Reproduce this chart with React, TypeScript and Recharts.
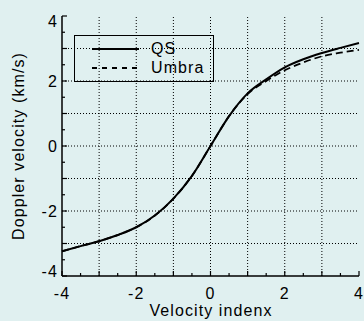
import { LineChart, Line, XAxis, YAxis, ReferenceLine, Legend, Label } from "recharts";

const BG = "#e0f0f0";
const FONT = "'Liberation Sans', Arial, Helvetica, sans-serif";

const VELOCITY_INDEX = [-4, -3.5, -3, -2.5, -2, -1.5, -1, -0.5, 0, 0.5, 1, 1.5, 2, 2.5, 3, 3.5, 4];
const QS = [-3.24, -3.08, -2.93, -2.74, -2.5, -2.14, -1.62, -0.92, 0, 0.92, 1.62, 2.05, 2.42, 2.67, 2.86, 3.02, 3.17];
const UMBRA = [-3.24, -3.08, -2.93, -2.74, -2.5, -2.14, -1.62, -0.92, 0, 0.92, 1.6, 2.0, 2.33, 2.57, 2.76, 2.87, 2.96];

const TICKS = [-4, -3.5, -3, -2.5, -2, -1.5, -1, -0.5, 0, 0.5, 1, 1.5, 2, 2.5, 3, 3.5, 4];
const LABELED = [-4, -2, 0, 2, 4];
const GRID = [-3, -2, -1, 0, 1, 2, 3];

const data = VELOCITY_INDEX.map((x, i) => ({ x, qs: QS[i], umbra: UMBRA[i] }));

const tickLen = (v: number) => (Number.isInteger(v) ? 5 : 3);
const textStyle = { fontFamily: FONT, fontSize: 16, letterSpacing: 1.1, fill: "#000" };

function BottomTick(props: any) {
  const { x, y, payload } = props;
  const v = payload.value;
  return (
    <g>
      <line x1={x} x2={x} y1={y} y2={y - tickLen(v)} stroke="#000" strokeWidth={1.2} />
      {LABELED.includes(v) && (
        <text x={x} y={y + 23} textAnchor="middle" style={textStyle}>
          {v}
        </text>
      )}
    </g>
  );
}

function TopTick(props: any) {
  const { x, y, payload } = props;
  return <line x1={x} x2={x} y1={y} y2={y + tickLen(payload.value)} stroke="#000" strokeWidth={1.2} />;
}

function LeftTick(props: any) {
  const { x, y, payload } = props;
  const v = payload.value;
  // end labels are nudged inside like the original
  const shift = v === 4 ? 5.5 : v === -4 ? -4.3 : 0;
  return (
    <g>
      <line x1={x} x2={x + tickLen(v)} y1={y} y2={y} stroke="#000" strokeWidth={1.2} />
      {LABELED.includes(v) && (
        <text x={x - 4} y={y + shift + 5.7} textAnchor="end" style={textStyle}>
          {v}
        </text>
      )}
    </g>
  );
}

function RightTick(props: any) {
  const { x, y, payload } = props;
  return <line x1={x} x2={x - tickLen(payload.value)} y1={y} y2={y} stroke="#000" strokeWidth={1.2} />;
}

function LegendBox() {
  return (
    <svg width={140} height={47} style={{ display: "block", overflow: "visible" }}>
      <rect x={0.5} y={0.5} width={139} height={46} fill="none" stroke="#000" strokeWidth={1} />
      <line x1={18} x2={65} y1={14} y2={14} stroke="#000" strokeWidth={2} />
      <line x1={18} x2={65} y1={33} y2={33} stroke="#000" strokeWidth={1.8} strokeDasharray="5 5" />
      <text x={77} y={19} style={textStyle}>QS</text>
      <text x={77} y={38} style={textStyle}>Umbra</text>
    </svg>
  );
}

export default function App() {
  return (
    <div style={{ width: 364, height: 321, background: BG }}>
      <style>{`body{margin:0;}`}</style>
      <LineChart width={364} height={321} data={data} margin={{ top: 16, right: 5, left: 0, bottom: 0 }}>
        <XAxis
          dataKey="x"
          type="number"
          domain={[-4, 4]}
          ticks={TICKS}
          interval={0}
          height={45}
          tickSize={0}
          tickMargin={0}
          tickLine={false}
          axisLine={{ stroke: "#000", strokeWidth: 1.5 }}
          tick={<BottomTick />}
        >
          <Label
            content={() => (
              <text x={211} y={316} textAnchor="middle" style={textStyle}>
                Velocity indenx
              </text>
            )}
          />
        </XAxis>
        <XAxis
          xAxisId="top"
          orientation="top"
          dataKey="x"
          type="number"
          domain={[-4, 4]}
          ticks={TICKS}
          interval={0}
          height={0}
          tickSize={0}
          tickMargin={0}
          tickLine={false}
          axisLine={{ stroke: "#000", strokeWidth: 1.5 }}
          tick={<TopTick />}
        />
        <YAxis
          type="number"
          domain={[-4, 4]}
          ticks={TICKS}
          interval={0}
          width={62}
          tickSize={0}
          tickMargin={0}
          tickLine={false}
          axisLine={{ stroke: "#000", strokeWidth: 1.5 }}
          tick={<LeftTick />}
        >
          <Label
            content={() => (
              <text
                x={24}
                y={146}
                textAnchor="middle"
                transform="rotate(-90 24 146)"
                style={textStyle}
              >
                Doppler velocity (km/s)
              </text>
            )}
          />
        </YAxis>
        <YAxis
          yAxisId="right"
          orientation="right"
          type="number"
          domain={[-4, 4]}
          ticks={TICKS}
          interval={0}
          width={0}
          tickSize={0}
          tickMargin={0}
          tickLine={false}
          axisLine={{ stroke: "#000", strokeWidth: 1.5 }}
          tick={<RightTick />}
        />
        {GRID.map((g) => (
          <ReferenceLine key={`v${g}`} x={g} stroke="#000" strokeWidth={1} strokeDasharray="1 2" />
        ))}
        {GRID.map((g) => (
          <ReferenceLine key={`h${g}`} y={g} stroke="#000" strokeWidth={1} strokeDasharray="1 2" />
        ))}
        <Legend
          layout="horizontal"
          verticalAlign="middle"
          align="center"
          content={() => <LegendBox />}
          wrapperStyle={{ position: "absolute", left: 74, top: 35, width: 140, height: 47 }}
        />
        <Line
          type="monotone"
          dataKey="umbra"
          stroke="#000"
          strokeWidth={1.8}
          strokeDasharray="7 4"
          dot={false}
          isAnimationActive={false}
        />
        <Line
          type="monotone"
          dataKey="qs"
          stroke="#000"
          strokeWidth={2}
          dot={false}
          isAnimationActive={false}
        />
      </LineChart>
    </div>
  );
}
